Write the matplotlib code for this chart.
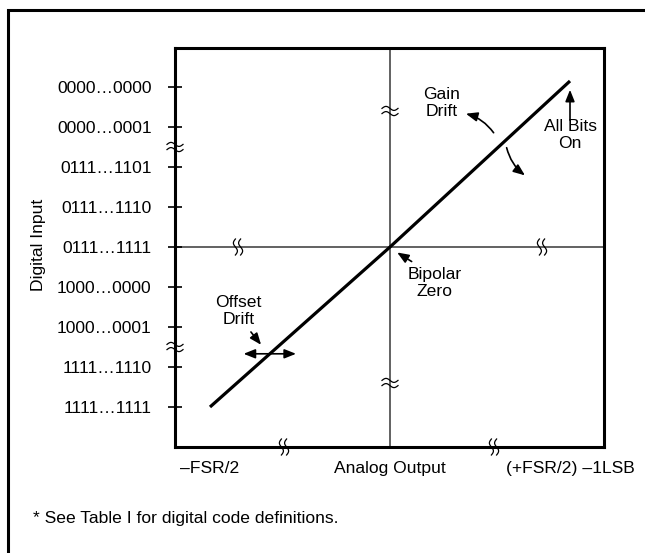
import matplotlib
matplotlib.use("Agg")
import matplotlib.pyplot as plt
import numpy as np
from matplotlib.patches import Rectangle

plt.rcParams["font.family"] = ["Liberation Sans", "DejaVu Sans"]
plt.rcParams["font.size"] = 12.6

# digital input codes, bottom to top
y_codes = [
    "1111\u20261111",
    "1111\u20261110",
    "1000\u20260001",
    "1000\u20260000",
    "0111\u20261111",
    "0111\u20261110",
    "0111\u20261101",
    "0000\u20260001",
    "0000\u20260000",
]
y_pos = list(range(len(y_codes)))

x_labels = ["\u2013FSR/2", "Analog Output", "(+FSR/2) \u20131LSB"]
x_pos = [-4.5, 0.0, 4.5]

# transfer function end points
line_x = [-4.5, 0.0, 4.5]
line_y = [0.0, 4.0, 8.15]

# axis-break marks
ybreaks_left = [1.5, 6.5]
ybreaks_center = [0.6, 7.4]
xbreaks_center = [-3.8, 3.8]
xbreaks_bottom = [-2.65, 2.6]

W, H = 645, 553
fig = plt.figure(figsize=(W / 100, H / 100), dpi=100)
ax = fig.add_axes([175 / W, 1 - 447 / H, 429 / W, 399 / H])

# outer frame (open to the right and bottom)
fig.patches.append(Rectangle((8 / W, -0.1), 1.2, 1 - 10 / H + 0.1,
                             transform=fig.transFigure, fill=False,
                             lw=2.2, ec="black"))

ax.set_xlim(-5.375, 5.35)
ax.set_ylim(-1.0, 8.975)

for s in ax.spines.values():
    s.set_linewidth(2.2)

ax.axvline(0, color="#555555", lw=1.3, zorder=1)
ax.axhline(4, color="#555555", lw=1.3, zorder=1)

ax.plot(line_x, line_y, color="black", lw=2.3, solid_capstyle="butt", zorder=3)

ax.set_yticks(y_pos)
ax.set_yticklabels(y_codes)
ax.tick_params(axis="y", direction="inout", length=10.5, width=1.2, pad=11.5)
ax.set_xticks(x_pos)
ax.set_xticklabels(x_labels)
ax.tick_params(axis="x", length=0, pad=10)

ax.set_ylabel("Digital Input")
ax.yaxis.set_label_coords(-0.300, 0.506)


def break_mark(cx, cy, vertical=False):
    # two small waves, like a "≈" sign
    t = np.linspace(-1, 1, 40)
    along = 0.2 * t
    wave = -0.05 * np.sin(np.pi * t)
    for off in (-0.065, 0.065):
        if vertical:
            ax.plot(cx + off + wave, cy + along, color="black", lw=0.9,
                    clip_on=False, zorder=4)
        else:
            ax.plot(cx + along, cy + off + wave, color="black", lw=0.9,
                    clip_on=False, zorder=4)


for y in ybreaks_left:
    break_mark(-5.375, y)
for y in ybreaks_center:
    break_mark(0, y)
for x in xbreaks_center:
    break_mark(x, 4, vertical=True)
for x in xbreaks_bottom:
    break_mark(x, -1.0, vertical=True)

head = "-|>,head_length=0.55,head_width=0.22"

# gain drift
ax.text(1.28, 7.6, "Gain\nDrift", ha="center", va="center", linespacing=1.1)
ax.annotate("", xy=(1.83, 7.35), xytext=(2.63, 6.8),
            arrowprops=dict(arrowstyle=head, color="black", lw=1.2,
                            connectionstyle="arc3,rad=0.2"))
ax.annotate("", xy=(3.43, 5.75), xytext=(2.9, 6.55),
            arrowprops=dict(arrowstyle=head, color="black", lw=1.2,
                            connectionstyle="arc3,rad=0.2"))

# all bits on
ax.text(4.5, 6.8, "All Bits\nOn", ha="center", va="center", linespacing=1.1)
ax.annotate("", xy=(4.5, 8.0), xytext=(4.5, 7.1),
            arrowprops=dict(arrowstyle=head, color="black", lw=1.2))

# bipolar zero
ax.text(1.12, 3.1, "Bipolar\nZero", ha="center", va="center", linespacing=1.1)
ax.annotate("", xy=(0.12, 3.9), xytext=(0.6, 3.6),
            arrowprops=dict(arrowstyle=head, color="black", lw=1.2))

# offset drift
ax.text(-3.78, 2.4, "Offset\nDrift", ha="center", va="center", linespacing=1.1)
ax.annotate("", xy=(-3.18, 1.5), xytext=(-3.52, 1.93),
            arrowprops=dict(arrowstyle=head, color="black", lw=1.2))
ax.annotate("", xy=(-2.28, 1.33), xytext=(-3.73, 1.33),
            arrowprops=dict(arrowstyle="<|-|>,head_length=0.55,head_width=0.22",
                            color="black", lw=1.2))

fig.text(33 / W, 1 - 519 / H, "* See Table I for digital code definitions.",
         ha="left", va="center", fontsize=12.6)

fig.savefig("out.png", dpi=100)
